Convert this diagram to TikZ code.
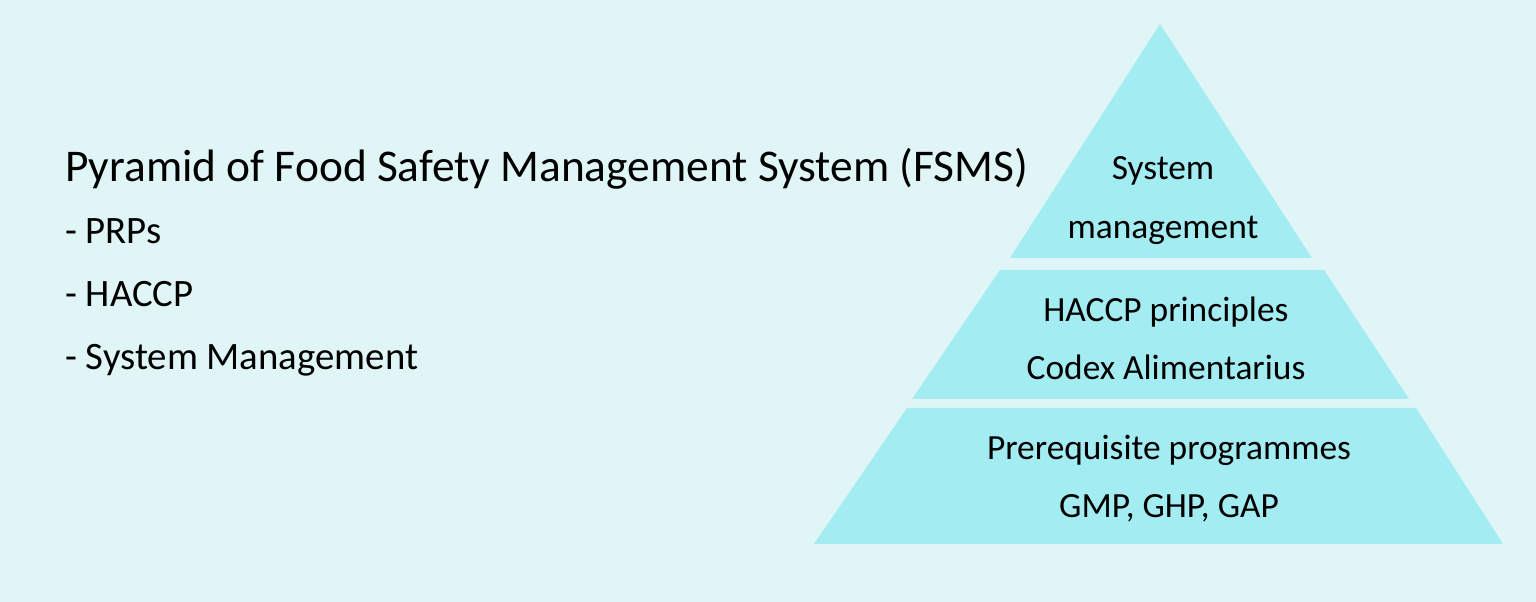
\documentclass[tikz,border=0pt]{standalone}
\usepackage{fontspec}
\newfontfamily\pyrfont{Carlito}
\definecolor{bgcyan}{RGB}{224,246,246}
\definecolor{layercyan}{RGB}{163,236,242}
\begin{document}
\begin{tikzpicture}[x=1pt, y=1pt,
    layer/.style={fill=layercyan},
    headtext/.style={anchor=base west, inner sep=0pt, font=\pyrfont\fontsize{45.4}{52}\selectfont},
    itemtext/.style={anchor=base west, inner sep=0pt, font=\pyrfont\fontsize{38.8}{46}\selectfont},
    layertext/.style={anchor=base, inner sep=0pt, font=\pyrfont\fontsize{35.4}{42}\selectfont}]
    \fill[bgcyan] (0, 0) rectangle (1536, 602);
    % pyramid layers
    \fill[layer] (1160, 578) -- (1010, 344) -- (1312, 344) -- cycle;
    \fill[layer] (1000, 332) -- (1324, 332) -- (1409, 203) -- (912, 203) -- cycle;
    \fill[layer] (907, 194) -- (1416, 194) -- (1503, 58) -- (814, 58) -- cycle;
    \node[layertext] (sys) at (1163, 422) {System};
    \node[layertext] (mgmt) at (1163, 363) {management};
    \node[layertext] (haccp) at (1166, 280) {HACCP principles};
    \node[layertext] (codex) at (1166, 222) {Codex Alimentarius};
    \node[layertext] (prereq) at (1169, 142) {Prerequisite programmes};
    \node[layertext] (gmp) at (1169, 84) {GMP, GHP, GAP};
    % heading and list
    \node[headtext] (title) at (65, 420) {Pyramid of Food Safety Management System (FSMS)};
    \node[itemtext] (prp) at (65, 358) {- PRPs};
    \node[itemtext] (hac) at (65, 295) {- HACCP};
    \node[itemtext] (sm) at (65, 232) {- System Management};
\end{tikzpicture}
\end{document}
